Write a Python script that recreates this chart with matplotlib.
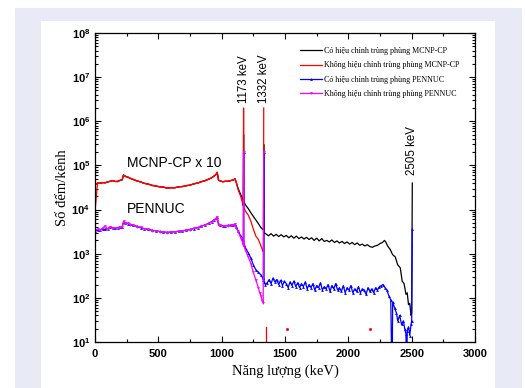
import numpy as np
import matplotlib
matplotlib.use('Agg')
import matplotlib.pyplot as plt
from matplotlib.patches import Rectangle
from matplotlib.ticker import MultipleLocator, LogLocator, FixedLocator, FuncFormatter

plt.rcParams['mathtext.fontset'] = 'custom'
plt.rcParams['mathtext.bf'] = 'Liberation Sans:bold'
plt.rcParams['mathtext.rm'] = 'Liberation Sans:bold'
SERIF = ['Liberation Serif', 'DejaVu Serif']
SANS = ['Liberation Sans', 'DejaVu Sans']

# --- data (counts per channel) ---
# shared low-energy channels (keV)
E_low = [0, 20, 40, 60, 80, 100, 120, 140, 160, 180, 200, 215, 225, 240, 260, 280,
         300, 330, 360, 390, 420, 450, 480, 510, 540, 570, 600, 630, 660, 690, 720,
         750, 780, 810, 840, 870, 900, 920, 940, 955, 965, 975, 990, 1010, 1030,
         1050, 1070, 1090, 1105, 1115]

mcnp_cor_low = [37000, 39000, 40000, 40500, 41000, 42000, 44000, 45000, 43000, 44000,
                46000, 47000, 60000, 57000, 54000, 51000, 48000, 45000, 42000, 39500,
                37500, 35500, 34000, 33000, 32000, 31000, 31000, 31500, 32500, 33500,
                34500, 36000, 38000, 40000, 42500, 45500, 49000, 53000, 57000, 63000,
                69000, 47000, 44000, 43000, 43500, 44000, 45000, 47000, 49000, 42000]

mcnp_raw_low = [36000, 40000, 39500, 41000, 40000, 42500, 43500, 45500, 43500, 43000,
                46500, 47500, 61000, 56000, 54500, 50500, 48500, 44500, 42500, 39000,
                38000, 35000, 34500, 32500, 32500, 30500, 31500, 31000, 33000, 33000,
                35000, 35500, 38500, 39500, 43000, 45000, 49500, 52000, 58000, 62000,
                70000, 46000, 44500, 42500, 44000, 43500, 45500, 46500, 50000, 41000]

pen_cor_low = [3300, 3400, 3500, 3600, 3550, 3700, 4000, 3900, 3800, 3900,
               4000, 4100, 5200, 5000, 4800, 4600, 4400, 4200, 3900, 3700,
               3550, 3400, 3300, 3200, 3100, 3050, 3100, 3150, 3200, 3300,
               3400, 3550, 3700, 3900, 4200, 4500, 4900, 5300, 5800, 6300,
               6800, 4600, 4400, 4300, 4300, 4400, 4400, 4500, 4700, 4000]

pen_raw_low = [3400, 3600, 3450, 3800, 4200, 3650, 4100, 3800, 3900, 3850,
               4100, 4000, 5400, 4900, 4900, 4500, 4500, 4100, 4000, 3650,
               3600, 3350, 3350, 3150, 3150, 3000, 3150, 3100, 3250, 3250,
               3450, 3500, 3750, 3850, 4300, 4400, 5000, 5200, 5900, 6200,
               6900, 4500, 4450, 4250, 4350, 4350, 4450, 4450, 4750, 3900]

# high-energy part, MCNP-CP with coincidence correction (x10)
E_mcnp_cor_hi = [1130, 1150, 1165, 1171, 1173, 1175, 1190, 1210, 1230, 1250, 1270, 1290,
                 1310, 1325, 1330, 1332, 1334, 1350, 1370, 1390, 1410, 1430, 1450, 1470,
                 1490, 1510, 1530, 1550, 1570, 1590, 1610, 1630, 1650, 1670, 1690, 1710,
                 1730, 1750, 1770, 1790, 1810, 1830, 1850, 1870, 1890, 1910, 1930, 1950,
                 1970, 1990, 2010, 2030, 2050, 2070, 2090, 2110, 2130, 2150, 2170, 2190,
                 2210, 2230, 2250, 2270, 2285, 2295, 2310, 2330, 2350, 2370, 2390, 2410,
                 2425, 2440, 2455, 2465, 2475, 2485, 2495, 2500, 2505]
mcnp_cor_hi = [30000, 22000, 17500, 16000, 500000, 15000, 12500, 10500, 8500, 7000, 5800,
               4800, 3900, 3500, 3400, 300000, 3000, 2800, 2550, 2850, 2500, 2750, 2450,
               2700, 2400, 2600, 2300, 2550, 2250, 2500, 2200, 2400, 2150, 2350, 2100,
               2300, 2000, 2250, 1950, 2200, 1900, 2000, 1850, 2050, 1800, 1950, 1750,
               1900, 1700, 1850, 1650, 1800, 1600, 1750, 1550, 1650, 1500, 1600, 1450,
               1400, 1500, 1550, 1700, 1800, 2000, 1850, 1500, 1250, 950, 850, 560, 480,
               240, 210, 120, 130, 70, 75, 40, 45, 40000]

# MCNP-CP without correction (x10)
E_mcnp_raw_hi = [1130, 1150, 1165, 1171, 1173, 1175, 1190, 1210, 1230, 1250, 1270, 1290,
                 1310, 1325, 1330, 1332]
mcnp_raw_hi = [28000, 20000, 14000, 12000, 2000000, 11000, 9000, 7500, 5500, 3600, 2500,
               2100, 1500, 1150, 1100, 2000000]
E_mcnp_raw_tail = [1353, 1353]
mcnp_raw_tail = [22, 1]
E_mcnp_raw_dots = [1515, 2170]
mcnp_raw_dots = [20, 20]

# PENNUC with correction
E_pen_cor_hi = [1130, 1150, 1165, 1171, 1173, 1175, 1190, 1210, 1230, 1250, 1270, 1290,
                1310, 1325, 1330, 1332, 1334, 1345, 1360, 1375, 1390, 1405, 1420, 1435,
                1450, 1465, 1480, 1495, 1510, 1525, 1540, 1555, 1570, 1585, 1600, 1615,
                1630, 1645, 1660, 1675, 1690, 1705, 1720, 1735, 1750, 1765, 1780, 1795,
                1810, 1825, 1840, 1855, 1870, 1885, 1900, 1915, 1930, 1945, 1960, 1975,
                1990, 2005, 2020, 2035, 2050, 2065, 2080, 2095, 2110, 2125, 2140, 2155,
                2170, 2185, 2200, 2215, 2230, 2245, 2260, 2275, 2290, 2305, 2320, 2335,
                2345, 2350, 2365, 2380, 2390, 2405, 2420, 2435, 2445, 2455, 2460, 2465,
                2475, 2485, 2495, 2500, 2505]
pen_cor_hi = [3300, 2500, 2000, 1800, 200000, 1600, 1300, 1050, 800, 560, 430, 380,
              330, 280, 260, 200000, 230, 200, 220, 260, 210, 280, 230, 260,
              200, 250, 190, 240, 210, 170, 230, 190, 240, 180, 220, 170,
              210, 180, 230, 160, 200, 170, 210, 150, 190, 170, 220, 150,
              180, 160, 200, 140, 190, 160, 210, 150, 170, 140, 190, 130,
              170, 150, 190, 130, 160, 140, 180, 130, 160, 150, 120, 170,
              140, 160, 130, 170, 150, 180, 190, 200, 170, 150, 110, 90,
              1, 80, 60, 45, 30, 40, 25, 30, 20, 15, 1, 18,
              22, 14, 25, 30, 3600]

# PENNUC without correction
E_pen_raw_hi = [1130, 1150, 1165, 1171, 1173, 1175, 1190, 1210, 1230, 1250, 1270, 1290,
                1300, 1310, 1320, 1328, 1332]
pen_raw_hi = [3200, 2300, 1800, 1600, 200000, 1500, 1150, 850, 600, 380, 250, 170,
              130, 110, 85, 76, 200000]

labels = ['Có hiệu chỉnh trùng phùng MCNP-CP',
          'Không hiệu chỉnh trùng phùng MCNP-CP',
          'Có hiệu chỉnh trùng phùng PENNUC',
          'Không hiệu chỉnh trùng phùng PENNUC']
peak_E = [1173, 1332, 2505]
peak_text = ['1173 keV', '1332 keV', '2505 keV']
peak_text_y = [2.6e6, 2.6e6, 6.0e4]
y_decades = [1e1, 1e2, 1e3, 1e4, 1e5, 1e6, 1e7, 1e8]

# --- figure ---
fig = plt.figure(figsize=(5.25, 3.88), dpi=100)
fig.patches.append(Rectangle((15 / 525, 0), 507 / 525, 380 / 388, transform=fig.transFigure,
                             facecolor='#e8ebf6', edgecolor='none', zorder=-2))
fig.patches.append(Rectangle((41 / 525, 0), 454 / 525, 367 / 388, transform=fig.transFigure,
                             facecolor='white', edgecolor='none', zorder=-1))
ax = fig.add_axes([95 / 525, 46 / 388, 380 / 525, 309 / 388])
ax.set_facecolor('none')

ax.plot(E_low + E_mcnp_cor_hi, mcnp_cor_low + mcnp_cor_hi, color='black', lw=0.9,
        label=labels[0])
ax.plot([0] + E_low[1:] + E_mcnp_raw_hi, [9000] + mcnp_raw_low[1:] + mcnp_raw_hi,
        color='#ff0000', lw=0.9, label=labels[1])
ax.plot([0] + E_low, [36000] + mcnp_raw_low, color='#ff0000', lw=0.9)
ax.plot(E_mcnp_raw_tail, mcnp_raw_tail, color='#ff0000', lw=0.9)
ax.plot(E_mcnp_raw_dots, mcnp_raw_dots, ls='none', marker='s', ms=1, color='#ff0000')
ax.plot(E_low + E_pen_cor_hi, pen_cor_low + pen_cor_hi, color='#0000ff', lw=0.9,
        marker='^', ms=2, mec='none', label=labels[2])
ax.plot(E_low + E_pen_raw_hi, pen_raw_low + pen_raw_hi, color='#ff00ff', lw=0.9,
        marker='v', ms=2, mec='none', label=labels[3])

ax.set_yscale('log')
ax.set_xlim(0, 3000)
ax.set_ylim(10, 1e8)

for e, t, y in zip(peak_E, peak_text, peak_text_y):
    ax.text(e, y, t, rotation=90, ha='center', va='bottom', fontsize=8.3, family=SANS)
ax.text(250, 9.3e4, 'MCNP-CP x 10', fontsize=10, family=SANS)
ax.text(255, 8.3e3, 'PENNUC', fontsize=10, family=SANS)

ax.xaxis.set_major_locator(MultipleLocator(500))
ax.xaxis.set_minor_locator(MultipleLocator(250))
ax.yaxis.set_major_locator(FixedLocator(y_decades))
ax.yaxis.set_minor_locator(LogLocator(base=10, subs=np.arange(2, 10), numticks=20))
ax.yaxis.set_major_formatter(FuncFormatter(lambda v, p: r'$\mathbf{10^{%d}}$' % round(np.log10(v))))
ax.tick_params(which='both', direction='in', top=True, right=True, width=0.8)
ax.tick_params(which='major', length=4, labelsize=8)
ax.tick_params(which='minor', length=2)
ax.tick_params(axis='x', which='major', pad=5)
for lab in ax.get_xticklabels():
    lab.set_fontweight('bold')
    lab.set_family(SANS)
for sp in ax.spines.values():
    sp.set_linewidth(0.9)

ax.set_xlabel('Năng lượng (keV)', fontsize=10.5, family=SERIF, labelpad=4)
ax.set_ylabel('Số đếm/kênh', fontsize=10.5, family=SERIF, labelpad=2)

ax.legend(loc='upper left', bbox_to_anchor=(0.54, 0.955), frameon=False,
          prop={'family': SERIF, 'size': 5.8}, handlelength=2.7, handletextpad=0.2,
          labelspacing=0.8, borderpad=0, borderaxespad=0, numpoints=1)

fig.savefig('out.png', dpi=100)
